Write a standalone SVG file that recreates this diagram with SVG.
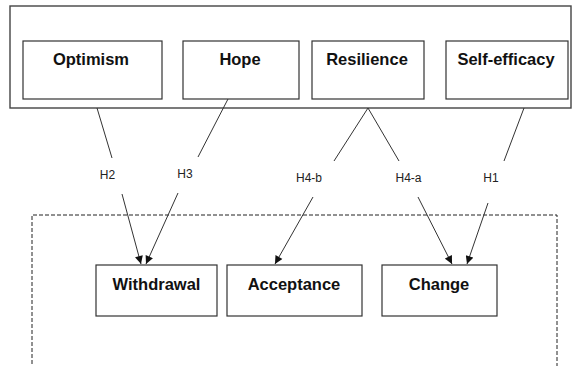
<svg xmlns="http://www.w3.org/2000/svg" width="572" height="366" viewBox="0 0 572 366">
<defs>
<marker id="arr" viewBox="0 0 10 10" refX="10" refY="5" markerWidth="9" markerHeight="8" markerUnits="userSpaceOnUse" orient="auto">
<path d="M0,0 L10,5 L0,10 z" fill="#111"/>
</marker>
<style>
.box{fill:#fff;stroke:#333;stroke-width:1.2}
.outer{fill:none;stroke:#444;stroke-width:1.4}
.dash{fill:none;stroke:#222;stroke-width:1;stroke-dasharray:4,2}
.t{font-family:"Liberation Sans",Arial,sans-serif;font-weight:bold;font-size:16.5px;fill:#111;text-anchor:middle}
.lbl{font-family:"Liberation Sans",Arial,sans-serif;font-size:12px;fill:#222;text-anchor:middle}
.ln{stroke:#333;stroke-width:1;fill:none}
.ar{stroke:#333;stroke-width:1;fill:none;marker-end:url(#arr)}
</style>
</defs>
<rect width="572" height="366" fill="#fff"/>
<g id="group-top"><rect class="outer" x="10" y="6" width="561" height="102"/></g>
<g id="group-bottom"><path class="dash" d="M32,370 L32,215 L557,215 L557,370"/></g>
<g id="optimism"><rect class="box" x="23" y="41" width="139" height="58"/><text class="t" x="91" y="65">Optimism</text></g>
<g id="hope"><rect class="box" x="183" y="41" width="116" height="58"/><text class="t" x="240" y="65">Hope</text></g>
<g id="resilience"><rect class="box" x="312" y="41" width="112" height="58"/><text class="t" x="367" y="65">Resilience</text></g>
<g id="self-efficacy"><rect class="box" x="446" y="41" width="122" height="58"/><text class="t" x="506" y="65">Self-efficacy</text></g>
<g id="withdrawal"><rect class="box" x="96" y="265" width="121" height="51"/><text class="t" x="156.5" y="290">Withdrawal</text></g>
<g id="acceptance"><rect class="box" x="227" y="265" width="135" height="51"/><text class="t" x="294" y="290">Acceptance</text></g>
<g id="change"><rect class="box" x="382" y="265" width="115" height="51"/><text class="t" x="439" y="290">Change</text></g>
<g id="connectors">
<line class="ln" x1="97" y1="108" x2="112" y2="158"/>
<line class="ar" x1="122" y1="194" x2="141" y2="264"/>
<line class="ln" x1="228" y1="99" x2="198" y2="157"/>
<line class="ar" x1="178" y1="193" x2="146" y2="264"/>
<line class="ln" x1="368" y1="108" x2="334" y2="161"/>
<line class="ar" x1="313" y1="197" x2="275" y2="264"/>
<line class="ln" x1="368" y1="108" x2="399" y2="161"/>
<line class="ar" x1="418" y1="197" x2="452" y2="264"/>
<line class="ln" x1="524" y1="108" x2="504" y2="161"/>
<line class="ar" x1="488" y1="203" x2="467" y2="264"/>
<text class="lbl" x="107.5" y="179">H2</text>
<text class="lbl" x="185" y="178">H3</text>
<text class="lbl" x="309" y="182">H4-b</text>
<text class="lbl" x="408.5" y="182">H4-a</text>
<text class="lbl" x="491" y="182">H1</text>
</g>
</svg>
